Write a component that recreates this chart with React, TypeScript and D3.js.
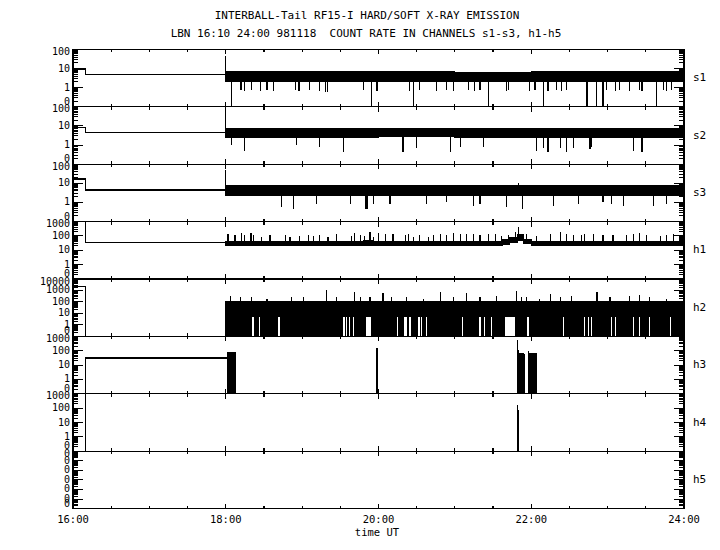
import React from 'react';
import * as d3 from 'd3';

// channel panels, top to bottom
const channels = ['s1', 's2', 's3', 'h1', 'h2', 'h3', 'h4', 'h5'];
const channelMax = [100, 100, 100, 1000, 10000, 1000, 1000, 100000];
const channelLabels = [
  ['100', '10', '1', '0'],
  ['100', '10', '1', '0'],
  ['100', '10', '1', '0'],
  ['1000', '100', '10', '1', '0'],
  ['10000', '1000', '100', '10', '1', '0'],
  ['1000', '100', '10', '1', '0'],
  ['1000', '100', '10', '1', '0'],
  ['0', '0', '0', '0', '0', '0', '0'],
];
const timeTicks = [16, 18, 20, 22, 24];
const timeLabels = ['16:00', '18:00', '20:00', '22:00', '24:00'];

// quiet part before 18:00 (hour, counts)
const s1Steps = [[16, 9.5], [16.167, 5], [18, 5]];
const s2Steps = [[16, 8], [16.167, 4.4], [18, 4.4]];
const s3Steps = [[16, 17], [16.167, 4.5], [18, 4.5]];
const h1Steps = [[16, 1000], [16.167, 34], [18, 34]];
const h2Steps = [[16, 2200], [16.167, 0], [18, 0]];
const h3Steps = [[16, 0], [16.167, 31], [18.02, 0], [24, 0]];
const h4Steps = [[16, 1000], [16.167, 0], [24, 0]];
const h5Steps = [[16, 0], [24, 0]];

// noisy band after 18:00: hour, low edge, high edge
const sBandHours = [18, 19, 20, 21, 22, 23, 24];
const s1Lo = [2.0, 2.0, 2.1, 2.0, 2.0, 2.0, 2.0];
const s1Hi = [6.8, 6.6, 6.8, 6.5, 6.8, 6.6, 6.8];
const s2Lo = [2.6, 2.6, 2.7, 2.6, 2.6, 2.6, 2.6];
const s2Hi = [7.4, 7.2, 7.4, 7.2, 7.4, 7.2, 7.4];
const s3Lo = [2.3, 2.3, 2.3, 2.3, 2.3, 2.3, 2.3];
const s3Hi = [7.6, 7.4, 7.6, 7.4, 7.6, 7.4, 7.6];
const h1BandHours = [18, 19.8, 19.92, 21.62, 21.72, 21.82, 21.9, 22.0, 24];
const h1Lo = [20, 22, 20, 26, 34, 45, 28, 20, 20];
const h1Hi = [44, 50, 44, 56, 75, 120, 60, 44, 44];
const h2BandHours = [18, 21, 24];
const h2Lo = [0, 0, 0];
const h2Hi = [120, 120, 120];

// spikes: hour, counts
const s1Spikes = [
  [18.0, 46], [18.08, 0], [18.2, 0.8], [18.25, 0.7], [18.34, 0.8], [18.45, 0.7], [18.54, 0.8],
  [18.62, 0.7], [18.91, 0.8], [18.96, 0.7], [19.1, 0.8], [19.23, 0.7], [19.31, 0.6], [19.33, 0.6],
  [19.8, 0.8], [19.91, 0], [19.98, 0.7], [20.41, 0.7], [20.46, 0], [20.54, 0.8], [20.76, 0.7],
  [20.89, 0.8], [20.98, 0.7], [21.18, 0.8], [21.26, 0.7], [21.33, 0.8], [21.44, 0], [21.68, 0.7],
  [21.7, 0.8], [21.98, 0.7], [22.05, 0.8], [22.16, 0], [22.22, 0.7], [22.33, 0.8], [22.4, 0.7],
  [22.46, 0.8], [22.73, 0], [22.85, 0], [22.94, 0], [22.99, 0.8], [23.1, 0.7], [23.16, 0.8],
  [23.29, 0.7], [23.42, 0.8], [23.45, 0.7], [23.64, 0], [23.73, 0.8], [23.77, 0.7], [23.84, 0.8],
];
const s2Spikes = [
  [18.0, 52], [18.08, 1.0], [18.25, 0.5], [18.93, 1.0], [19.23, 0.8], [19.54, 0.45], [20.32, 0.45],
  [20.5, 0.7], [20.94, 0.45], [21.07, 0.8], [21.37, 0.8], [22.07, 0.5], [22.16, 0.7], [22.22, 0.45],
  [22.38, 0.7], [22.46, 0.45], [22.55, 0.7], [22.77, 0.6], [22.79, 0.8], [23.34, 0.5], [23.45, 0.45],
];
const s3Spikes = [
  [18.0, 50], [18.73, 0.55], [18.89, 0.45], [19.19, 0.8], [19.63, 0.8], [19.83, 0.45], [19.84, 0.45],
  [19.85, 0.45], [19.93, 0.8], [20.15, 0.8], [20.63, 0.8], [20.89, 1.0], [21.24, 0.65], [21.33, 0.8],
  [21.68, 0.55], [21.83, 11], [21.89, 0.45], [22.29, 0.65], [22.62, 0.8], [22.94, 1.0], [23.05, 0.8],
  [23.21, 0.65], [23.6, 0.65], [23.77, 0.8],
];
const h1Spikes = [
  [18.03, 145], [18.12, 110], [18.21, 160], [18.25, 110], [18.33, 160], [18.36, 110], [18.47, 84],
  [18.58, 110], [18.78, 110], [18.84, 84], [18.97, 94], [19.08, 110], [19.15, 94], [19.23, 110],
  [19.34, 84], [19.45, 145], [19.65, 94], [19.69, 160], [19.76, 110], [19.82, 94], [19.89, 190],
  [19.93, 84], [20.0, 160], [20.09, 145], [20.19, 145], [20.35, 110], [20.39, 145], [20.46, 84],
  [20.54, 110], [20.65, 84], [20.72, 110], [20.81, 145], [20.89, 110], [20.98, 160], [21.07, 145],
  [21.15, 145], [21.24, 145], [21.33, 110], [21.44, 145], [21.53, 145], [21.61, 94], [21.7, 110],
  [21.79, 190], [21.83, 420], [21.94, 145], [22.07, 94], [22.25, 145], [22.38, 190], [22.46, 145],
  [22.55, 125], [22.66, 110], [22.7, 145], [22.81, 145], [22.94, 110], [23.07, 110], [23.25, 125],
  [23.34, 145], [23.42, 160], [23.51, 125], [23.69, 94], [23.77, 110], [23.86, 145],
];
const h2Spikes = [
  [18.06, 330], [18.19, 260], [18.34, 280], [18.54, 200], [18.86, 260], [19.02, 260], [19.32, 1000],
  [19.45, 280], [19.69, 760], [19.76, 260], [19.89, 280], [20.06, 620], [20.17, 260], [20.37, 260],
  [20.59, 200], [20.81, 760], [20.98, 260], [21.15, 550], [21.33, 280], [21.55, 330], [21.81, 950],
  [21.87, 280], [21.94, 260], [22.11, 200], [22.25, 520], [22.38, 260], [22.53, 330], [22.86, 760],
  [23.03, 260], [23.29, 330], [23.42, 380], [23.55, 260], [23.77, 200],
];
// h2 moments where the count never fell to zero (white gaps), hour
const h2Gaps = [
  18.36, 18.44, 18.7, 19.55, 19.58, 19.62, 19.67, 20.25, 20.34, 20.36, 20.41, 20.53, 20.56, 20.63,
  21.1, 21.33, 21.39, 21.48, 21.96, 22.42, 22.7, 22.75, 22.79, 23.05, 23.1, 23.34, 23.42, 23.55, 23.82,
];
const h2WideGaps = [[19.84, 19.9], [21.66, 21.79]];
const h2GapFloor = 5;

// bursts in h3 / h4: start hour, end hour, top counts
const h3Bursts = [
  [18.02, 18.13, 80], [19.97, 19.99, 150], [21.81, 21.825, 550], [21.825, 21.84, 110],
  [21.84, 21.9, 75], [21.9, 21.95, 60], [21.95, 21.965, 100], [21.965, 22.08, 72],
];
const h3Gaps = [21.92, 21.945];
const h4Bursts = [[21.81, 21.825, 170], [21.825, 21.84, 72]];

const stepsByChannel = [s1Steps, s2Steps, s3Steps, h1Steps, h2Steps, h3Steps, h4Steps, h5Steps];
const bands: ([number[], number[], number[]] | null)[] = [
  [sBandHours, s1Lo, s1Hi], [sBandHours, s2Lo, s2Hi], [sBandHours, s3Lo, s3Hi],
  [h1BandHours, h1Lo, h1Hi], [h2BandHours, h2Lo, h2Hi], null, null, null,
];
const spikesByChannel = [s1Spikes, s2Spikes, s3Spikes, h1Spikes, h2Spikes, [], [], []];
const burstsByChannel = [[], [], [], [], [], h3Bursts, h4Bursts, []];

const W = 720;
const H = 550;
const X0 = 73;
const X1 = 684;
const TOP = 49.4;
const PH = 57.4;
const FONT = '"DejaVu Sans Mono", "Liberation Mono", monospace';

export default function App() {
  const x = d3.scaleLinear().domain([16, 24]).range([X0, X1]);
  const halfHours = d3.range(16, 24.001, 0.5);

  const panels = channels.map((name, i) => {
    const top = TOP + i * PH;
    const y = d3.scaleLog().domain([0.1, channelMax[i]]).range([top + PH, top]).clamp(true);
    const yv = (v: number) => y(Math.max(v, 0.1));
    const decades = d3.range(0, Math.round(Math.log10(channelMax[i])) + 2).map((k) => 0.1 * Math.pow(10, k));
    const minors: number[] = [];
    decades.slice(0, -1).forEach((d) => d3.range(2, 10).forEach((k) => minors.push(d * k)));
    return { name, i, top, y, yv, decades: decades.reverse(), minors };
  });

  return (
    <svg width={W} height={H} style={{ position: 'absolute', left: 0, top: 0, background: '#fff' }}
      fontFamily={FONT}>
      <rect width={W} height={H} fill="#fff" />
      <text x={367} y={19} fontSize={11} textAnchor="middle">INTERBALL-Tail RF15-I HARD/SOFT X-RAY EMISSION</text>
      <text x={366} y={37} fontSize={11} textAnchor="middle" xmlSpace="preserve">LBN 16:10 24:00 981118  COUNT RATE IN CHANNELS s1-s3, h1-h5</text>

      {panels.map((p) => {
        const { i, top, yv } = p;
        const bottom = top + PH;
        const band = bands[i];
        const step = d3.line<number[]>().x((d) => x(d[0])).y((d) => yv(d[1])).curve(d3.curveStepAfter);
        let bandPath: string | null = null;
        let centerAt = (t: number) => 1;
        if (band) {
          const [bt, lo, hi] = band;
          const pts = bt.map((t, k) => [t, lo[k], hi[k]]);
          bandPath = d3.area<number[]>().x((d) => x(d[0])).y0((d) => yv(d[1])).y1((d) => yv(d[2]))
            .curve(d3.curveStepAfter)(pts);
          centerAt = (t: number) => {
            const k = Math.max(0, d3.bisectRight(bt, t) - 1);
            return Math.sqrt(Math.max(lo[k], 0.1) * hi[k]);
          };
        }
        return (
          <g key={p.name}>
            <clipPath id={`clip${i}`}>
              <rect x={X0} y={top} width={X1 - X0} height={PH} />
            </clipPath>
            <g clipPath={`url(#clip${i})`} shapeRendering="crispEdges">
              <path d={step(stepsByChannel[i]) || ''} fill="none" stroke="#000" strokeWidth={1.2} />
              {bandPath && <path d={bandPath} fill="#000" stroke="#000" strokeWidth={1} />}
              {spikesByChannel[i].map(([t, v], k) => (
                <line key={k} x1={x(t)} x2={x(t)} y1={yv(centerAt(t))} y2={yv(v)} stroke="#000" strokeWidth={1.2} />
              ))}
              {burstsByChannel[i].map(([t0, t1, v], k) => (
                <rect key={k} x={x(t0)} width={Math.max(x(t1) - x(t0), 1.2)} y={yv(v)} height={bottom - yv(v)} fill="#000" />
              ))}
              {i === 4 && h2Gaps.map((t, k) => (
                <line key={k} x1={x(t)} x2={x(t)} y1={yv(h2GapFloor)} y2={bottom} stroke="#fff" strokeWidth={1.5} />
              ))}
              {i === 4 && h2WideGaps.map(([t0, t1], k) => (
                <rect key={k} x={x(t0)} width={x(t1) - x(t0)} y={yv(h2GapFloor)} height={bottom - yv(h2GapFloor)} fill="#fff" />
              ))}
              {i === 5 && h3Gaps.map((t, k) => (
                <line key={k} x1={x(t)} x2={x(t)} y1={top} y2={bottom} stroke="#fff" strokeWidth={1.2} />
              ))}
            </g>

            {/* frame */}
            <rect x={X0} y={top} width={X1 - X0} height={PH} fill="none" stroke="#000" strokeWidth={1.2} shapeRendering="crispEdges" />

            {/* time ticks on top (down) and bottom (up) */}
            {halfHours.map((t) => {
              const len = timeTicks.includes(t) ? 5 : 3;
              return (
                <g key={t} stroke="#000" strokeWidth={1.2} shapeRendering="crispEdges">
                  <line x1={x(t)} x2={x(t)} y1={top} y2={top + len} />
                  <line x1={x(t)} x2={x(t)} y1={bottom} y2={bottom - len} />
                </g>
              );
            })}

            {/* log axis ticks, left and right */}
            <g stroke="#000" strokeWidth={1} shapeRendering="crispEdges">
              {p.decades.map((d) => (
                <g key={d}>
                  <line x1={X0} x2={X0 + 10} y1={p.y(d)} y2={p.y(d)} />
                  <line x1={X1} x2={X1 - 10} y1={p.y(d)} y2={p.y(d)} />
                </g>
              ))}
              {p.minors.map((d) => (
                <g key={d}>
                  <line x1={X0} x2={X0 + 5} y1={p.y(d)} y2={p.y(d)} />
                  <line x1={X1} x2={X1 - 5} y1={p.y(d)} y2={p.y(d)} />
                </g>
              ))}
            </g>

            {p.decades.map((d, k) => {
              let ly = p.y(d);
              if (k === 0) ly = top + 2.5;
              if (k === p.decades.length - 1) ly = bottom - 5;
              return (
                <text key={d} x={70} y={ly} fontSize={10} textAnchor="end" dominantBaseline="middle">
                  {channelLabels[i][k]}
                </text>
              );
            })}
            <text x={693} y={top + PH / 2} fontSize={11} dominantBaseline="middle">{p.name}</text>
          </g>
        );
      })}

      {timeTicks.map((t, k) => (
        <text key={t} x={x(t)} y={520} fontSize={10.5} textAnchor="middle" dominantBaseline="middle">{timeLabels[k]}</text>
      ))}
      <text x={377} y={533} fontSize={10.5} textAnchor="middle" dominantBaseline="middle">time UT</text>
    </svg>
  );
}
